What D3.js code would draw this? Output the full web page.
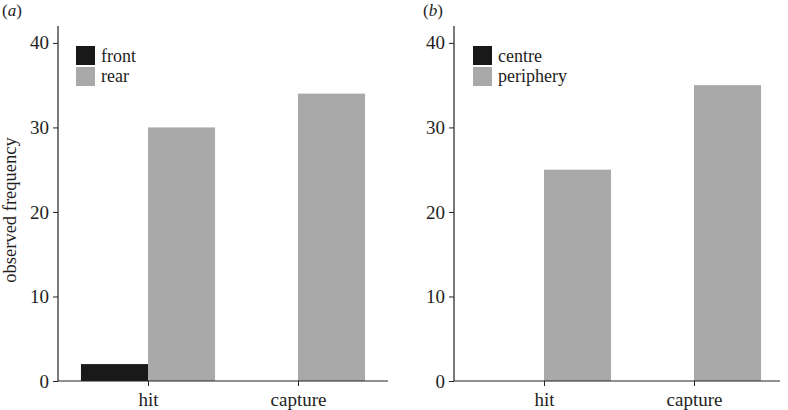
<!DOCTYPE html>
<html>
<head>
<meta charset="utf-8">
<script src="https://cdn.jsdelivr.net/npm/d3@7"></script>
<style>
  body { margin: 0; background: #fff; }
  svg text { font-family: "Liberation Serif", "Times New Roman", Times, "DejaVu Serif", serif !important; fill: #1e1e1e; }
</style>
</head>
<body>
<svg id="svg" width="788" height="410" font-family="Liberation Serif, Times New Roman, serif"></svg>
<script>
// categories on the x axis (same for both panels)
let categories = ["hit", "capture"];

// panel (a): front vs rear
let seriesA = ["front", "rear"];
let frontValues = [2, 0];
let rearValues = [30, 34];

// panel (b): centre vs periphery
let seriesB = ["centre", "periphery"];
let centreValues = [0, 0];
let peripheryValues = [25, 35];

let yTicks = [0, 10, 20, 30, 40];
let colours = ["#191919", "#a9a9a9"];
let serif = "'Liberation Serif', 'Times New Roman', serif";

let svg = d3.select("#svg");

// one panel = axes + grouped bars + legend
function drawPanel(opts) {
    let g = svg.append("g");

    let y = d3.scaleLinear().domain([0, 42]).range([381, 26]);
    let x = d3.scalePoint().domain(categories).range([opts.x0, opts.x1]).padding(0.6);
    let barW = x.step() * 0.447;

    let rows = categories.map(function (c, i) {
        return { cat: c, vals: [opts.values[0][i], opts.values[1][i]] };
    });

    // bars, first series left of the tick, second right of it
    rows.forEach(function (r) {
        r.vals.forEach(function (v, j) {
            if (v <= 0) return;
            g.append("rect")
                .attr("x", x(r.cat) + (j - 1) * barW)
                .attr("y", y(v))
                .attr("width", barW)
                .attr("height", y(0) - y(v))
                .attr("fill", colours[j]);
        });
    });

    // y axis
    let yAxis = g.append("g")
        .attr("transform", "translate(" + opts.x0 + ",0)")
        .call(d3.axisLeft(y).tickValues(yTicks).tickSize(5).tickPadding(4));
    yAxis.attr("font-family", null);
    yAxis.select(".domain").attr("d", "M0," + y(42) + "V" + y(0)).attr("stroke", "#222").attr("stroke-width", 1.2);
    yAxis.selectAll(".tick line").attr("stroke", "#222");
    yAxis.selectAll(".tick text").style("font-size", "19px").style("font-family", serif).attr("fill", "#1e1e1e");

    // x axis
    let xAxis = g.append("g")
        .attr("transform", "translate(0," + y(0) + ")")
        .call(d3.axisBottom(x).tickSize(5).tickPadding(7));
    xAxis.attr("font-family", null);
    xAxis.select(".domain").attr("d", "M" + opts.x0 + ",0H" + opts.xEnd).attr("stroke", "#222").attr("stroke-width", 1.2);
    xAxis.selectAll(".tick line").attr("stroke", "#222");
    xAxis.selectAll(".tick text").style("font-size", "19px").style("font-family", serif).attr("fill", "#1e1e1e");

    // legend
    opts.series.forEach(function (s, j) {
        g.append("rect")
            .attr("x", opts.legendX)
            .attr("y", 46 + j * 21)
            .attr("width", 19)
            .attr("height", 19)
            .attr("fill", colours[j]);
        g.append("text")
            .attr("x", opts.legendX + 25)
            .attr("y", 62 + j * 20)
            .style("font-size", "18px")
            .style("font-family", serif)
            .text(s);
    });

    // panel letter
    let lab = g.append("text").attr("x", opts.labelX).attr("y", 16)
        .style("font-size", "17px").style("font-family", serif);
    lab.append("tspan").text("(");
    lab.append("tspan").style("font-style", "italic").text(opts.letter);
    lab.append("tspan").text(")");
}

drawPanel({
    x0: 58, x1: 388, xEnd: 388,
    values: [frontValues, rearValues],
    series: seriesA,
    legendX: 76,
    labelX: 2,
    letter: "a"
});

drawPanel({
    x0: 454, x1: 784, xEnd: 780,
    values: [centreValues, peripheryValues],
    series: seriesB,
    legendX: 473,
    labelX: 423,
    letter: "b"
});

// y axis title
svg.append("text")
    .attr("transform", "translate(16,210) rotate(-90)")
    .attr("text-anchor", "middle")
    .style("font-size", "18.5px")
    .style("font-family", serif)
    .text("observed frequency");
</script>
</body>
</html>
